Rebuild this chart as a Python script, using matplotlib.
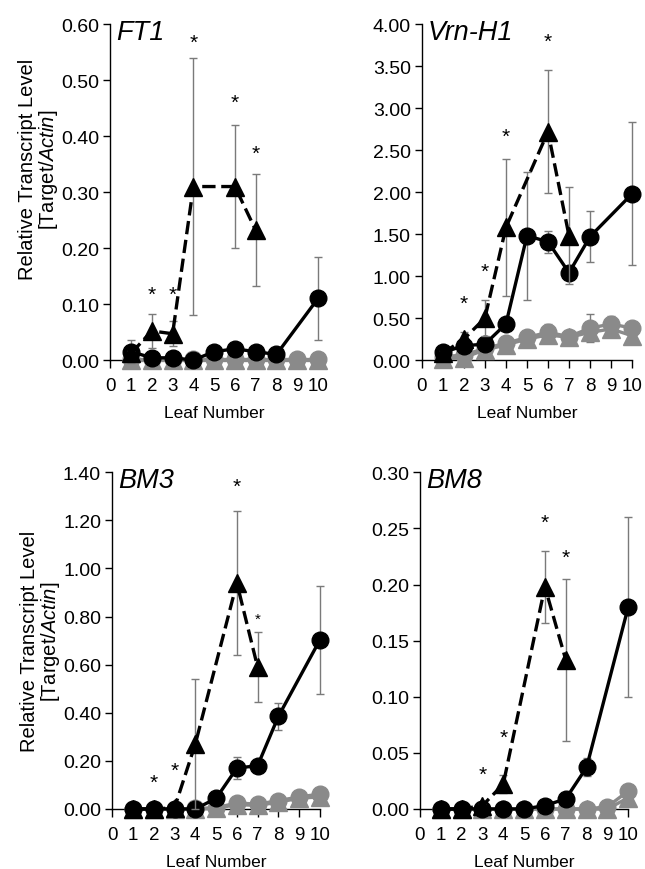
import matplotlib
matplotlib.use('Agg')
import matplotlib.pyplot as plt
import numpy as np

plt.rcParams.update({
    'font.family': 'Liberation Sans',
    'mathtext.fontset': 'custom',
    'mathtext.rm': 'Liberation Sans',
    'mathtext.it': 'Liberation Sans:italic',
    'axes.linewidth': 1.0,
})

nan = np.nan
leaves = np.arange(1, 11)

# FT1
ft1_circ = [0.015, 0.004, 0.004, 0.0, 0.015, 0.02, 0.015, 0.01, nan, 0.11]
ft1_circ_err = [0.02, 0.0, 0.0, 0.0, 0.003, 0.003, 0.003, 0.003, nan, 0.075]
ft1_tri = [0.012, 0.052, 0.047, 0.31, nan, 0.31, 0.232, nan, nan, nan]
ft1_tri_err = [0.005, 0.03, 0.022, 0.23, nan, 0.11, 0.10, nan, nan, nan]
ft1_gcirc = [0.001, 0.001, 0.001, 0.001, 0.001, 0.001, 0.001, 0.001, 0.001, 0.001]
ft1_gtri = [0.0] * 10
ft1_stars = [(2, 0.118), (3, 0.118), (4, 0.567), (6, 0.46), (7, 0.37)]

# Vrn-H1
vrn_circ = [0.09, 0.17, 0.19, 0.43, 1.48, 1.41, 1.04, 1.47, nan, 1.98]
vrn_circ_err = [0.03, 0.05, 0.04, 0.06, 0.76, 0.13, 0.08, 0.3, nan, 0.85]
vrn_tri = [0.08, 0.25, 0.5, 1.58, nan, 2.72, 1.48, nan, nan, nan]
vrn_tri_err = [0.03, 0.08, 0.21, 0.82, nan, 0.73, 0.58, nan, nan, nan]
vrn_gcirc = [0.04, 0.06, 0.14, 0.2, 0.27, 0.33, 0.28, 0.38, 0.43, 0.38]
vrn_gcirc_err = [0.01, 0.02, 0.03, 0.03, 0.04, 0.1, 0.04, 0.17, 0.1, 0.05]
vrn_gtri = [0.01, 0.03, 0.12, 0.18, 0.25, 0.3, 0.27, 0.33, 0.37, 0.29]
vrn_gtri_err = [0.01, 0.01, 0.02, 0.03, 0.03, 0.08, 0.03, 0.08, 0.06, 0.04]
vrn_stars = [(2, 0.67), (3, 1.06), (4, 2.67), (6, 3.8)]

# BM3
bm3_circ = [0.0, 0.0, 0.0, 0.0, 0.044, 0.17, 0.18, 0.385, nan, 0.703]
bm3_circ_err = [0.0, 0.0, 0.0, 0.0, 0.01, 0.045, 0.01, 0.055, nan, 0.225]
bm3_tri = [0.0, 0.0, 0.005, 0.27, nan, 0.94, 0.59, nan, nan, nan]
bm3_tri_err = [0.0, 0.0, 0.002, 0.27, nan, 0.30, 0.145, nan, nan, nan]
bm3_gcirc = [0.0, 0.0, 0.0, 0.002, 0.005, 0.025, 0.02, 0.035, 0.05, 0.062]
bm3_gtri = [0.0, 0.0, 0.0, 0.0, 0.003, 0.018, 0.015, 0.028, 0.045, 0.05]
bm3_stars = [(2, 0.11), (3, 0.16), (6, 1.34), (7, 0.79)]

# BM8
bm8_circ = [0.0, 0.0, 0.0, 0.0, 0.0, 0.003, 0.009, 0.037, nan, 0.18]
bm8_circ_err = [0.0, 0.0, 0.0, 0.0, 0.0, 0.001, 0.002, 0.008, nan, 0.08]
bm8_tri = [0.0, 0.0, 0.003, 0.022, nan, 0.198, 0.133, nan, nan, nan]
bm8_tri_err = [0.0, 0.0, 0.001, 0.008, nan, 0.032, 0.072, nan, nan, nan]
bm8_gcirc = [0.0, 0.0, 0.0, 0.0, 0.0, 0.0, 0.0, 0.0, 0.002, 0.016]
bm8_gtri = [0.0, 0.0, 0.0, 0.0, 0.0, 0.0, 0.0, 0.0, 0.0, 0.01]
bm8_stars = [(3, 0.031), (4, 0.064), (6, 0.255), (7, 0.224)]

panels = [
    dict(title='FT1', ymax=0.60, step=0.10,
         circ=ft1_circ, circ_err=ft1_circ_err, tri=ft1_tri, tri_err=ft1_tri_err,
         gcirc=ft1_gcirc, gcirc_err=None, gtri=ft1_gtri, gtri_err=None, stars=ft1_stars),
    dict(title='Vrn-H1', ymax=4.00, step=0.50,
         circ=vrn_circ, circ_err=vrn_circ_err, tri=vrn_tri, tri_err=vrn_tri_err,
         gcirc=vrn_gcirc, gcirc_err=vrn_gcirc_err, gtri=vrn_gtri, gtri_err=vrn_gtri_err,
         stars=vrn_stars),
    dict(title='BM3', ymax=1.40, step=0.20,
         circ=bm3_circ, circ_err=bm3_circ_err, tri=bm3_tri, tri_err=bm3_tri_err,
         gcirc=bm3_gcirc, gcirc_err=None, gtri=bm3_gtri, gtri_err=None, stars=bm3_stars),
    dict(title='BM8', ymax=0.30, step=0.05,
         circ=bm8_circ, circ_err=bm8_circ_err, tri=bm8_tri, tri_err=bm8_tri_err,
         gcirc=bm8_gcirc, gcirc_err=None, gtri=bm8_gtri, gtri_err=None, stars=bm8_stars),
]

grey = '#8a8a8a'
ecol = '#7a7a7a'

fig = plt.figure(figsize=(6.45, 8.7), dpi=100)
boxes = [(0.171, 0.585, 0.322, 0.386), (0.654, 0.585, 0.326, 0.386),
         (0.174, 0.069, 0.322, 0.387), (0.651, 0.069, 0.323, 0.387)]
ylabel_y = [0.57, None, 0.5, None]


def draw_series(ax, y, err, color, marker, ls, z):
    y = np.array(y, dtype=float)
    m = ~np.isnan(y)
    x = leaves[m]
    yy = y[m]
    if err is not None:
        e = np.array(err, dtype=float)[m]
        ax.errorbar(x, yy, yerr=e, fmt='none', ecolor=ecol, elinewidth=1.0,
                    capsize=3, capthick=1.0, zorder=z - 0.5, clip_on=False)
    ax.plot(x, yy, color=color, marker=marker, ls=ls, lw=2.4,
            markersize=12 if marker == 'o' else 13, zorder=z, clip_on=False,
            dashes=(4.0, 1.7) if ls == '--' else (None, None))


for i, p in enumerate(panels):
    ax = fig.add_axes(boxes[i])
    draw_series(ax, p['gtri'], p['gtri_err'], grey, '^', '-', 3)
    draw_series(ax, p['gcirc'], p['gcirc_err'], grey, 'o', '-', 3.2)
    draw_series(ax, p['circ'], p['circ_err'], 'black', 'o', '-', 4)
    draw_series(ax, p['tri'], p['tri_err'], 'black', '^', '--', 5)

    for sx, sy in p['stars']:
        small = (p['title'] == 'BM3' and sx == 7)
        ax.text(sx, sy, '*', ha='center', va='center',
                fontsize=11 if small else 15, zorder=6)

    ax.set_xlim(0, 10)
    ax.set_ylim(0, p['ymax'])
    ax.set_xticks(np.arange(0, 11))
    ax.set_yticks(np.arange(0, p['ymax'] + p['step'] / 2, p['step']))
    ax.yaxis.set_major_formatter(matplotlib.ticker.FormatStrFormatter('%.2f'))
    ax.tick_params(axis='x', direction='out', length=6, width=1.0, labelsize=13.5, pad=6)
    ax.tick_params(axis='y', direction='out', length=5, width=1.0, labelsize=14, pad=3)
    ax.spines['top'].set_visible(False)
    ax.spines['right'].set_visible(False)
    ax.set_xlabel('Leaf Number', fontsize=12.5, labelpad=8)
    if i % 2 == 0:
        ax.set_ylabel('Relative Transcript Level\n[Target/$\\mathit{Actin}$]',
                      fontsize=14.5, linespacing=1.0)
        ax.yaxis.set_label_coords(-0.24, ylabel_y[i])
    ax.text(0.03, 1.015, p['title'], transform=ax.transAxes, ha='left', va='top',
            fontsize=19.5, style='italic')

fig.savefig('out.png', dpi=100)
